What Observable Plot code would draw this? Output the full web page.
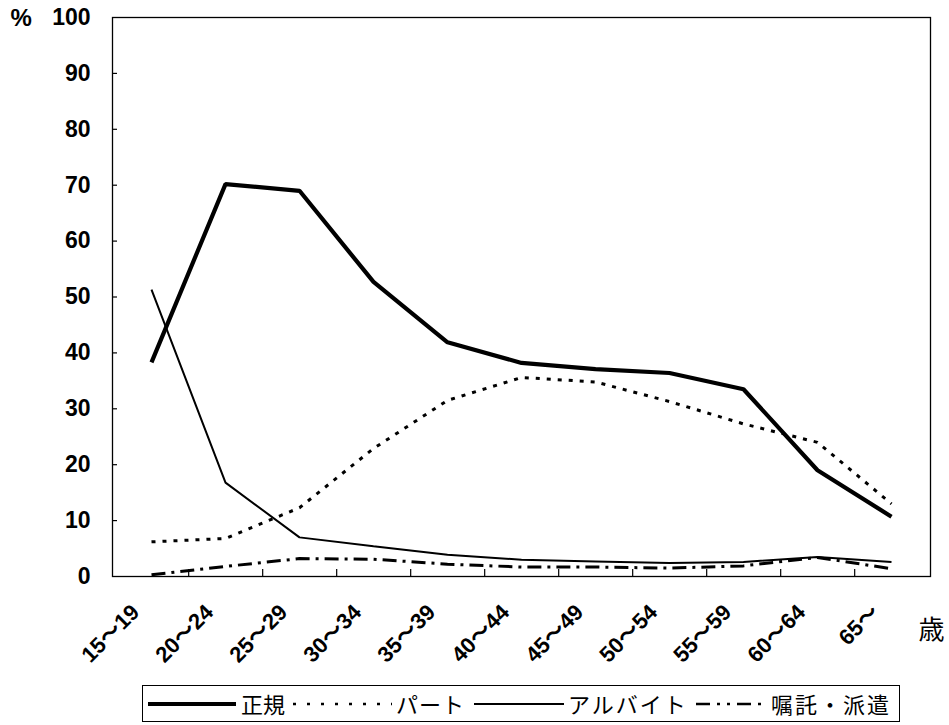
<!DOCTYPE html>
<html><head><meta charset="utf-8">
<script src="https://cdn.jsdelivr.net/npm/d3@7"></script>
<script src="https://cdn.jsdelivr.net/npm/@observablehq/plot@0.6"></script>
<style>
body{margin:0;background:#fff;font-family:"Liberation Sans","Noto Sans CJK JP",sans-serif;}
#wrap{position:relative;width:949px;height:725px;}
#legend{position:absolute;left:142px;top:685px;width:758px;height:37px;border:1px solid #000;box-sizing:border-box;font-family:"Noto Sans CJK JP",sans-serif;font-size:22px;color:#000;white-space:nowrap;}
#legend svg{position:absolute;top:13px;display:block;}
#legend span{position:absolute;top:2px;line-height:30px;}
</style>
</head><body>
<div id="wrap"><div id="chart"></div><div id="legend"></div></div>
<script>
const ages = ["15～19","20～24","25～29","30～34","35～39","40～44","45～49","50～54","55～59","60～64","65～"];
const seiki = [38.3,70.2,69.0,52.7,41.9,38.2,37.1,36.4,33.5,19.0,10.7];
const part = [6.2,6.8,12.3,22.9,31.5,35.6,34.8,31.3,27.3,24.0,13.0];
const arubaito = [51.3,16.8,7.0,5.4,3.9,3.0,2.7,2.4,2.6,3.5,2.6];
const shokutaku = [0.3,1.8,3.2,3.1,2.2,1.7,1.7,1.5,1.9,3.4,1.4];
const seriesNames = ["正規","パート","アルバイト","嘱託・派遣"];
const yTicks = [0,10,20,30,40,50,60,70,80,90,100];
const yUnit = "%";
const xUnit = "歳";

const seriesValues = [seiki, part, arubaito, shokutaku];
const styles = [
  {strokeWidth:4.2, strokeDasharray:null},
  {strokeWidth:3, strokeDasharray:"4,7"},
  {strokeWidth:2, strokeDasharray:null},
  {strokeWidth:3, strokeDasharray:"14,6,3,6"}
];

const W = 949, H = 682, mL = 112, mR = 19, mT = 17, mB = H - 576;
const step = (W - mL - mR) / ages.length;
const font = '"Liberation Sans","Noto Sans CJK JP",sans-serif';

const lineMarks = seriesValues.map((vals, k) =>
  Plot.line(ages.map((a, i) => ({age: a, v: vals[i]})), {
    x: "age", y: "v", stroke: "#000",
    strokeWidth: styles[k].strokeWidth,
    strokeDasharray: styles[k].strokeDasharray,
    strokeLinejoin: "miter", strokeLinecap: "butt"
  })
);

const chart = Plot.plot({
  width: W, height: H,
  marginLeft: mL, marginRight: mR, marginTop: mT, marginBottom: mB,
  style: {fontFamily: font, background: "#fff", color: "#000", overflow: "visible"},
  x: {type: "point", domain: ages, padding: 0.5},
  y: {domain: [0, 100]},
  marks: [
    Plot.frame({stroke: "#000", strokeWidth: 1.3}),
    Plot.axisY({ticks: yTicks.slice(1, -1), tickSize: 5, dx: 5, tickFormat: () => "", label: null, strokeWidth: 1.2}),
    Plot.axisY({ticks: yTicks, tickSize: 0, tickPadding: 22, fontSize: 23, fontWeight: "bold", label: null}),
    Plot.axisX({ticks: ages.slice(0, -1), tickSize: 7, dy: -7, dx: step / 2, tickFormat: () => "", label: null, strokeWidth: 1.2}),
    Plot.text(ages, {x: d => d, frameAnchor: "bottom", dy: 26, dx: -22, rotate: -45, textAnchor: "end", lineAnchor: "top", fontSize: 22, fontWeight: "bold", fill: "#000"}),
    Plot.text([yUnit], {frameAnchor: "top-left", dx: -102, dy: 1, textAnchor: "start", lineAnchor: "middle", fontSize: 24, fontWeight: "bold", fill: "#000"}),
    Plot.text([xUnit], {frameAnchor: "bottom-right", dx: 1, dy: 62, textAnchor: "middle", fontSize: 26, fill: "#000", fontFamily: '"Noto Sans CJK JP",sans-serif'}),
    ...lineMarks
  ]
});
document.getElementById("chart").appendChild(chart);

// legend (positions relative to legend box)
const legendSwatch = [[5, 88], [150, 99], [331, 90], [553, 70]];
const legendTextX = [98, 253, 425, 628];
const legendSpacing = [0, 1, 2, 2];
const lg = document.getElementById("legend");
const ns = "http://www.w3.org/2000/svg";
seriesNames.forEach((name, k) => {
  const [x0, w] = legendSwatch[k];
  const s = document.createElementNS(ns, "svg");
  s.setAttribute("width", w); s.setAttribute("height", 10);
  s.style.left = x0 + "px";
  const l = document.createElementNS(ns, "line");
  l.setAttribute("x1", 0); l.setAttribute("x2", w); l.setAttribute("y1", 5); l.setAttribute("y2", 5);
  l.setAttribute("stroke", "#000");
  l.setAttribute("stroke-width", k === 0 ? 4 : (k === 2 ? 2 : 2.5));
  if (k === 1) l.setAttribute("stroke-dasharray", "3,11");
  if (k === 3) l.setAttribute("stroke-dasharray", "14,7,3,7,3,7");
  s.appendChild(l);
  lg.appendChild(s);
  const t = document.createElement("span");
  t.textContent = name;
  t.style.left = legendTextX[k] + "px";
  t.style.letterSpacing = legendSpacing[k] + "px";
  lg.appendChild(t);
});
</script>
</body></html>
